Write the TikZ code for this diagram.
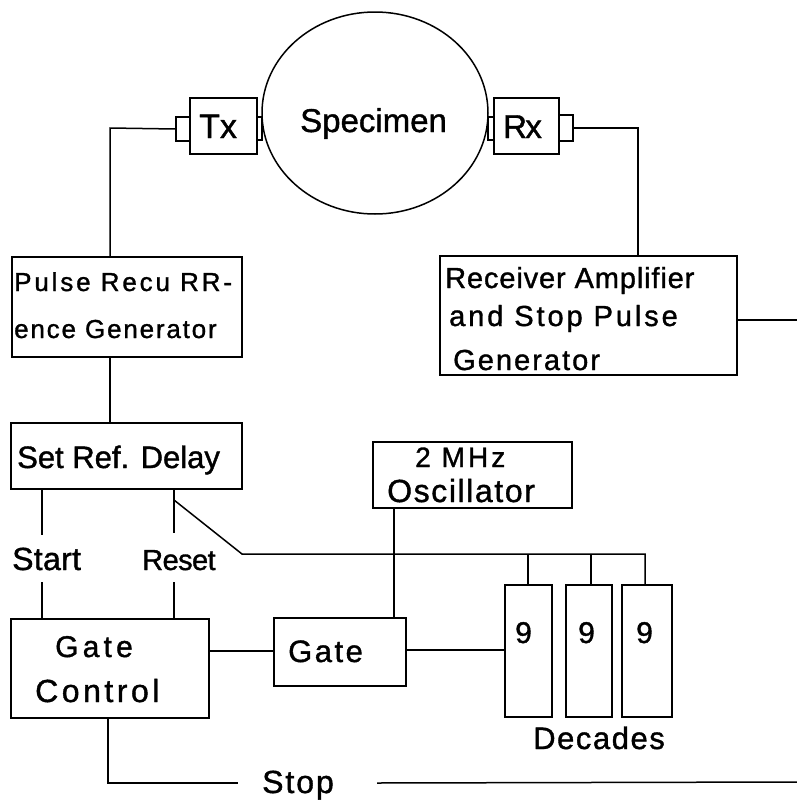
\documentclass[tikz,border=0pt]{standalone}
\usepackage{fontspec}
\setmainfont{Liberation Sans}[FakeBold=1.2]
\usetikzlibrary{fit,shapes.geometric}
\newcommand\lt[3]{\fontsize{#1}{#1}\selectfont\addfontfeature{LetterSpace=#2}#3}
\begin{document}
\begin{tikzpicture}[x=1pt,y=-1pt,
  box/.style={draw,line width=1.3pt,inner sep=0pt},
  wire/.style={line width=1.5pt},
  lbl/.style={anchor=base west,inner sep=0pt}]
\useasboundingbox (0,0) rectangle (797,801);
% specimen, transducers
\node[draw,ellipse,line width=1.5pt,inner sep=0pt,minimum width=226pt,minimum height=202pt] (spec) at (375,113) {};
\node[lbl] (spect) at (300,132) {\lt{33}{0}{Specimen}};
\node[box,fit={(190,98) (257,154)}] (tx) {};
\node[box,fit={(176,117) (190,141)}] (txl) {};
\node[box,fit={(257,117) (262,140)}] (txr) {};
\node[lbl] (txt) at (199,138) {\lt{34}{0}{Tx}};
\node[box,fit={(494,98) (559,154)}] (rx) {};
\node[box,fit={(488,117) (494,140)}] (rxl) {};
\node[box,fit={(559,115) (573,141)}] (rxr) {};
\node[lbl] (rxt) at (503,138) {\lt{33}{-5}{Rx}};
% blocks
\node[box,fit={(12,257) (242,357)}] (prg) {};
\node[lbl] (prg1) at (14,291) {\lt{26}{11}{Pulse Recu RR-}};
\node[lbl] (prg2) at (14,338) {\lt{26}{7}{ence Generator}};
\node[box,fit={(440,256) (737,375)}] (rec) {};
\node[lbl] (rec1) at (445,288) {\lt{29}{3}{Receiver Amplifier}};
\node[lbl] (rec2) at (449,326) {\lt{29}{10}{and Stop Pulse}};
\node[lbl] (rec3) at (453,370) {\lt{29}{7}{Generator}};
\node[box,fit={(11,423) (242,489)}] (srd) {};
\node[lbl] (srdt) at (17,468) {\lt{31}{0}{Set Ref. Delay}};
\node[box,fit={(373,442) (572,508)}] (osc) {};
\node[lbl] (osc1) at (415,467) {\lt{28}{11}{2 MHz}};
\node[lbl] (osc2) at (387,502) {\lt{32}{5}{Oscillator}};
\node[box,fit={(11,619) (209,718)}] (gc) {};
\node[lbl] (gc1) at (55,657) {\lt{30}{14}{Gate}};
\node[lbl] (gc2) at (35,702) {\lt{32}{11}{Control}};
\node[box,fit={(274,618) (406,686)}] (gate) {};
\node[lbl] (gatet) at (288,662) {\lt{31}{8}{Gate}};
\node[box,fit={(505,585) (552,717)}] (d1) {};
\node[box,fit={(566,585) (612,717)}] (d2) {};
\node[box,fit={(622,585) (672,717)}] (d3) {};
\node[lbl] (n1) at (515,643) {\lt{30}{0}{9}};
\node[lbl] (n2) at (578,643) {\lt{30}{0}{9}};
\node[lbl] (n3) at (636,643) {\lt{30}{0}{9}};
\node[lbl] (dec) at (533,749) {\lt{31}{5}{Decades}};
\node[lbl] (start) at (12,570) {\lt{32}{1}{Start}};
\node[lbl] (reset) at (142,570) {\lt{29}{-2}{Reset}};
\node[lbl] (stop) at (262,793) {\lt{32}{6}{Stop}};
% coordinates
\coordinate (c1) at (110,128);
\coordinate (c2) at (638,128);
\coordinate (c3) at (797,320);
\coordinate (sx) at (42,535);
\coordinate (sy) at (42,582);
\coordinate (rxa) at (174,533);
\coordinate (rxb) at (174,582);
\coordinate (dg0) at (174,500);
\coordinate (dg1) at (242,554);
\coordinate (dg2) at (645,554);
\coordinate (ox) at (394,0);
\coordinate (s1) at (108,783);
\coordinate (s2) at (238,783);
\coordinate (s3) at (377,783);
\coordinate (s4) at (797,782);
% connectors
\draw[wire] (txl.west) -- (c1) -- (c1 |- prg.north);
\draw[wire] (rxr.east) -- (c2) -- (c2 |- rec.north);
\draw[wire] (rec.east |- c3) -- (c3);
\draw[wire] (c1 |- prg.south) -- (c1 |- srd.north);
\draw[wire] (sx |- srd.south) -- (sx);
\draw[wire] (sy) -- (sy |- gc.north);
\draw[wire] (rxa |- srd.south) -- (rxa);
\draw[wire] (rxb) -- (rxb |- gc.north);
\draw[wire] (dg0) -- (dg1) -- (dg2) -- (dg2 |- d3.north);
\draw[wire] (dg1 -| d1.north) ++(-0.5,0) coordinate (v1) -- (v1 |- d1.north);
\draw[wire] (dg1 -| d2.north) ++(2,0) coordinate (v2) -- (v2 |- d2.north);
\draw[wire] (ox |- osc.south) -- (ox |- gate.north);
\draw[wire] (gc.east |- 0,651) -- (gate.west |- 0,651);
\draw[wire] (gate.east |- 0,650) -- (d1.west |- 0,650);
\draw[wire] (gc.south -| s1) -- (s1) -- (s2);
\draw[wire] (s3) -- (s4);
\end{tikzpicture}
\end{document}
